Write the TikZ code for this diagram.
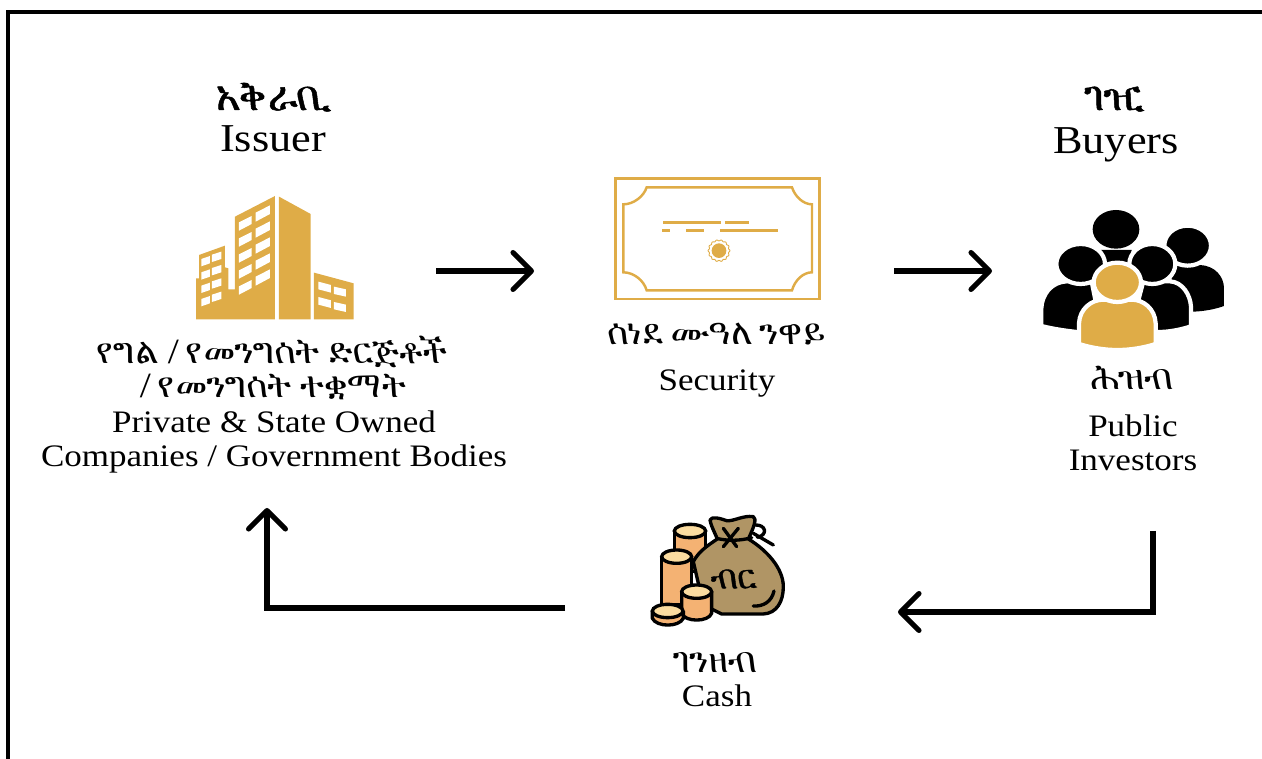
\documentclass[tikz,border=0pt]{standalone}
\usepackage{fontspec}
\setmainfont[FakeStretch=1.12]{Liberation Serif}
\newfontfamily\ethiofont[AutoFakeBold=1.2, FakeSlant=-0.2]{FreeSerif}
\usetikzlibrary{arrows.meta}
\newcommand{\orslash}{{\normalfont /}}
\definecolor{goldfill}{HTML}{DFAC47}
\definecolor{bagfill}{HTML}{B09565}
\definecolor{coinfill}{HTML}{F4B273}
\definecolor{cointop}{HTML}{FBDCA0}
\tikzset{
	flow/.style={line width=2.9pt, line join=miter, -{Straight Barb[length=10.5pt, width=21pt, line width=2.9pt, round]}},
	latin/.style={align=center, inner sep=0pt, font=\fontsize{17.8}{19.6}\selectfont},
	ethio/.style={align=center, inner sep=0pt, font=\ethiofont\fontsize{20.2}{19.8}\selectfont},
	title/.style={anchor=base, inner sep=0pt, font=\ethiofont\bfseries\fontsize{23.5}{24}\selectfont},
	headline/.style={anchor=base, inner sep=0pt, font=\fontsize{22.5}{24}\selectfont},
	coin/.style={draw=black, line width=1.9pt, fill=coinfill, line join=round},
	cointopface/.style={draw=black, line width=1.9pt, fill=cointop},
	crowd/.style={fill=black, draw=white, line width=2.4pt},
	bagline/.style={line width=1.9pt, line cap=round},
}
\begin{document}
\begin{tikzpicture}[x=0.02cm, y=-0.02cm]
	\useasboundingbox (0, 0) rectangle (1262, 759);

	%%%%% FRAME %%%%%
	\draw[line width=1.8pt] (8, 759) -- (8, 12) -- (1262, 12);

	%%%%% TEXT %%%%%
	\node[title] (issueram) at (274, 110) {አቅራቢ};
	\node[headline] (issueren) at (273, 152) {Issuer};
	\node[title] (buyersam) at (1116, 110) {ገዢ};
	\node[headline] (buyersen) at (1116, 154) {Buyers};
	\node[ethio] (bodiesam) at (274, 368) {የግል \orslash{} የመንግሰት ድርጅቶች\\\orslash{} የመንግሰት ተቋማት};
	\node[latin] (bodiesen) at (274, 442) {Private \& State Owned\\Companies / Government Bodies};
	\node[ethio, anchor=base] (securityam) at (718, 345) {ሰነደ ሙዓለ ንዋይ};
	\node[latin, anchor=base] (securityen) at (717, 391) {Security};
	\node[ethio, anchor=base] (publicam) at (1133, 390) {ሕዝብ};
	\node[latin] (publicen) at (1133, 443) {Public\\Investors};
	\node[ethio, anchor=base] (casham) at (717, 673) {ገንዘብ};
	\node[latin, anchor=base] (cashen) at (717, 707) {Cash};

	%%%%% BUILDINGS %%%%%
	\begin{scope}[shift={(170, 60)}, x=0.00667cm, y=-0.00667cm]
		\fill[goldfill] (327, 410) -- (422, 462) -- (422, 778) -- (327, 778) -- cycle;
		\fill[goldfill] (315, 408) -- (195, 470) -- (195, 688) -- (175, 688) -- (175, 625) -- (165, 622) -- (165, 557) -- (87, 585) -- (87, 655) -- (78, 655) -- (78, 778) -- (315, 778) -- cycle;
		\fill[goldfill] (432, 638) -- (551, 670) -- (551, 778) -- (432, 778) -- cycle;
		\foreach \row in {0,...,4} {
			\fill[white, shift={(0, \row*48)}] (207, 487) -- (245, 468) -- (245, 492) -- (207, 512) -- cycle;
			\fill[white, shift={(0, \row*48)}] (257, 458) -- (300, 436) -- (300, 462) -- (257, 485) -- cycle;
		}
		\foreach \row in {0,...,3} {
			\fill[white, shift={(0, \row*40)}] (94, 597) -- (120, 588) -- (120, 610) -- (94, 619) -- cycle;
			\fill[white, shift={(0, \row*40)}] (126, 584) -- (154, 575) -- (154, 597) -- (126, 606) -- cycle;
		}
		\foreach \row in {0,1} {
			\fill[white, shift={(0, \row*46)}] (445, 665) -- (483, 675) -- (483, 698) -- (445, 688) -- cycle;
			\fill[white, shift={(0, \row*46)}] (492, 680) -- (528, 688) -- (528, 710) -- (492, 702) -- cycle;
		}
	\end{scope}

	%%%%% CERTIFICATE %%%%%
	\begin{scope}[shift={(600, 165)}, x=0.00667cm, y=-0.00667cm, draw=goldfill]
		\draw[line width=1.4pt] (47, 40) rectangle (659, 402);
		\draw[line width=1.4pt] (140, 67) -- (576, 67) .. controls (585, 95) and (610, 118) .. (636, 118) -- (636, 322) .. controls (610, 322) and (585, 345) .. (576, 376) -- (140, 376) .. controls (131, 345) and (100, 322) .. (70, 322) -- (70, 118) .. controls (100, 118) and (131, 95) .. (140, 67) -- cycle;
		\foreach \xa/\xb/\ya in {189/363/172, 375/447/172, 186/210/196, 258/312/196, 360/534/196}
			\draw[line width=1.5pt] (\xa, \ya) -- (\xb, \ya);
		\fill[goldfill] (357, 257) circle (22);
		\draw[line width=0.5pt] plot[domain=0:360, samples=97, smooth] ({357+(31+1.8*cos(14*\x))*cos(\x)}, {257+(31+1.8*cos(14*\x))*sin(\x)}) -- cycle;
	\end{scope}

	%%%%% PEOPLE %%%%%
	\begin{scope}[shift={(1030, 200)}, x=0.00667cm, y=-0.00667cm]
		% back row
		\fill[black] (425, 195) -- (510, 195) .. controls (555, 197) and (582, 230) .. (582, 265) -- (582, 318) .. controls (555, 328) and (520, 334) .. (490, 335) -- (425, 335) -- cycle;
		\draw[crowd] (473, 137) ellipse (70 and 60);
		\fill[black] (212, 150) -- (305, 150) -- (295, 195) -- (222, 195) -- cycle;
		\fill[black] (258, 88) ellipse (70 and 58);
		% middle row
		\draw[crowd] (340, 244) -- (420, 244) .. controls (458, 246) and (481, 285) .. (483, 320) -- (483, 379) .. controls (450, 390) and (415, 396) .. (385, 396) -- (300, 396) -- cycle;
		\draw[crowd] (367, 192) ellipse (69 and 60);
		\draw[crowd] (34, 378) -- (34, 325) .. controls (36, 282) and (65, 246) .. (110, 244) -- (185, 244) -- (215, 396) -- (140, 396) .. controls (105, 392) and (70, 387) .. (34, 378) -- cycle;
		\draw[crowd] (152, 192) ellipse (73 and 60);
		% front person
		\draw[line width=2.4pt, draw=white, fill=goldfill] (147, 432) -- (147, 370) .. controls (149, 326) and (185, 299) .. (220, 299) -- (305, 299) .. controls (340, 299) and (375, 326) .. (377, 370) -- (377, 432) .. controls (300, 456) and (225, 456) .. (147, 432) -- cycle;
		\draw[line width=2.4pt, draw=white, fill=goldfill] (262, 247) ellipse (71 and 59);
	\end{scope}

	%%%%% MONEY %%%%%
	\begin{scope}[shift={(640, 505)}, x=0.00667cm, y=-0.00667cm]
		\draw[coin] (103, 78) -- (103, 200) -- (197, 200) -- (197, 78);
		\draw[cointopface] (150, 78) ellipse (47 and 20);
		% bag
		\draw[line width=1.9pt, fill=bagfill, line join=round] (232, 102) .. controls (225, 85) and (212, 60) .. (210, 45) .. controls (215, 33) and (240, 40) .. (260, 47) .. controls (280, 50) and (310, 30) .. (340, 35) .. controls (352, 40) and (340, 70) .. (325, 102) .. controls (380, 135) and (430, 190) .. (430, 245) .. controls (430, 290) and (410, 325) .. (370, 327) -- (245, 327) -- (190, 300) -- (160, 170) .. controls (175, 140) and (205, 120) .. (232, 102) -- cycle;
		\draw[bagline] (250, 70) -- (290, 125);
		\draw[bagline] (295, 70) -- (250, 125);
		\draw[bagline] (230, 100) .. controls (260, 108) and (300, 108) .. (335, 98);
		\draw[bagline] (345, 60) .. controls (378, 58) and (385, 90) .. (352, 97);
		\draw[bagline] (340, 85) -- (400, 120);
		\draw[bagline] (340, 303) .. controls (370, 305) and (395, 290) .. (402, 258);
		\node[inner sep=0pt, font=\ethiofont\bfseries\fontsize{19}{20}\selectfont] (bagword) at (285, 222) {ብር};
		% coins
		\draw[coin] (65, 155) -- (65, 300) -- (155, 300) -- (155, 155);
		\draw[cointopface] (110, 155) ellipse (45 and 20);
		\draw[coin] (125, 260) -- (125, 325) .. controls (135, 352) and (205, 352) .. (215, 325) -- (215, 260);
		\draw[cointopface] (170, 260) ellipse (45 and 20);
		\draw[coin] (37, 318) -- (37, 340) .. controls (50, 367) and (117, 367) .. (130, 340) -- (130, 318);
		\draw[cointopface] (83, 318) ellipse (46 and 20);
	\end{scope}

	%%%%% ARROWS %%%%%
	\coordinate (issuerout) at (436, 271);
	\coordinate (securityin) at (534, 271);
	\coordinate (securityout) at (894, 271);
	\coordinate (buyersin) at (992, 271);
	\coordinate (buyersout) at (1153, 531);
	\coordinate (cashin) at (898, 612);
	\coordinate (cashout) at (565, 608);
	\coordinate (issuerin) at (267, 508);
	\draw[flow] (issuerout) -- (securityin);
	\draw[flow] (securityout) -- (buyersin);
	\draw[flow] (buyersout) |- (cashin);
	\draw[flow] (cashout) -| (issuerin);
\end{tikzpicture}
\end{document}
